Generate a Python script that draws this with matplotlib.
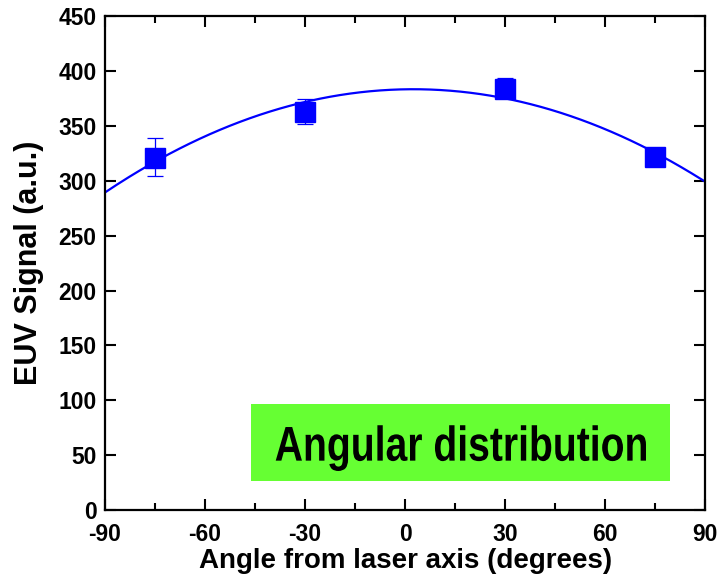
import numpy as np
import matplotlib
matplotlib.use("Agg")
import matplotlib.pyplot as plt
from matplotlib.font_manager import FontProperties
from matplotlib.textpath import TextPath
from matplotlib.patches import PathPatch
from matplotlib.transforms import Affine2D
from matplotlib.ticker import MultipleLocator

angles = [-75, -30, 30, 75]
signal = [321, 363, 384, 322]
err_up = [18, 12, 10, 8]
err_dn = [17, 11, 7, 7]

xticks = [-90, -60, -30, 0, 30, 60, 90]
yticks = [0, 50, 100, 150, 200, 250, 300, 350, 400, 450]

plt.rcParams['font.family'] = ['Liberation Sans', 'DejaVu Sans']
plt.rcParams['font.weight'] = 'bold'
plt.rcParams['axes.unicode_minus'] = False

fig = plt.figure(figsize=(7.19, 5.79), dpi=100)
ax = fig.add_axes([0.146, 0.119, 0.835, 0.853])

blue = '#0000ff'

# parabolic fit of the points
coef = np.polyfit(angles, signal, 2)
xs = np.linspace(-90, 90, 300)
ax.plot(xs, np.polyval(coef, xs), color=blue, lw=1.6, zorder=2)

ax.errorbar(angles, signal, yerr=[err_dn, err_up], fmt='s', color=blue,
            ms=14, elinewidth=0.9, capsize=6, capthick=0.9, zorder=3)

ax.set_xlim(-90, 90)
ax.set_ylim(0, 450)
ax.set_xticks(xticks)
ax.set_yticks(yticks)
ax.xaxis.set_minor_locator(MultipleLocator(15))
ax.tick_params(which='both', direction='in', top=True, right=True,
               width=1.5, labelsize=16.5)
ax.tick_params(which='major', length=8, pad=6)
ax.tick_params(which='minor', length=5)
ax.tick_params(axis='x', which='major', pad=9)
for s in ax.spines.values():
    s.set_linewidth(1.6)

ax.set_xlabel('Angle from laser axis (degrees)', fontsize=20,
              fontweight='bold', labelpad=2)
ax.set_ylabel('EUV Signal (a.u.)', fontsize=22, fontweight='bold', labelpad=10)

# green label box
ax.add_patch(plt.Rectangle((-46.3, 26.4), 125.6, 70, color='#66ff33',
                           zorder=1, lw=0))

# condensed bold text, like a narrow font
tp = TextPath((0, 0), 'Angular distribution', size=1,
              prop=FontProperties(family='Liberation Sans', weight='bold'))
bb = tp.get_extents()
em = 35 / 0.716  # px
cx, cy = ax.transData.transform((16.7, 61))
tr = (Affine2D().translate(-(bb.x0 + bb.x1) / 2, -0.716 / 2)
      .scale(em * 0.80, em).translate(cx, cy))
fig.add_artist(PathPatch(tp, transform=tr, color='black', lw=0, zorder=5))

fig.savefig('out.png', dpi=100)
